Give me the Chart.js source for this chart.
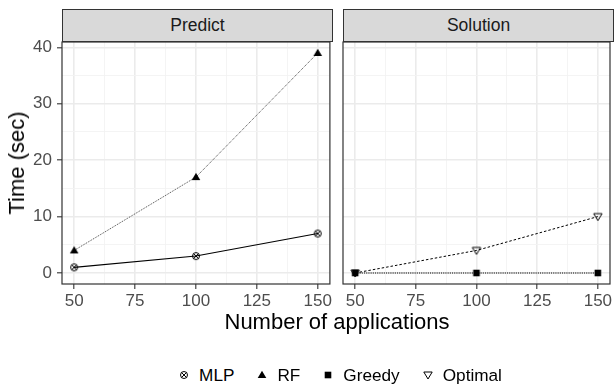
<!DOCTYPE html>
<html>
<head>
  <meta charset="utf-8">
  <title>Time per number of applications</title>
  <script src="https://cdn.jsdelivr.net/npm/chart.js"></script>
  <style>
    body {
      margin: 0;
      background: #fff;
      font-family: "Liberation Sans", Arial, sans-serif;
    }
    #wrap { position: relative; width: 616px; height: 385px; overflow: hidden; }
    canvas.panel { position: absolute; top: 0; }
    .strip {
      position: absolute; top: 9px; height: 33px; width: 271px;
      box-sizing: border-box; background: #d9d9d9; border: 1.2px solid #333;
      color: #1a1a1a; font-size: 17.5px; line-height: 31px; text-align: center;
    }
    .title { position: absolute; color: #000; font-size: 22px; white-space: nowrap; }
    #legend {
      position: absolute; left: 0; top: 364px; width: 680px; height: 22px;
      display: flex; justify-content: center; align-items: center;
      font-size: 17.2px; color: #000;
    }
    #legend .item { display: flex; align-items: center; margin: 0 11px; }
    #legend canvas { margin-right: 9px; }
  </style>
</head>
<body>
<div id="wrap">
  <canvas id="predictChart" class="panel" width="336" height="312" style="left:0px"></canvas>
  <canvas id="solutionChart" class="panel" width="280" height="312" style="left:336px"></canvas>
  <div class="strip" style="left:62px">Predict</div>
  <div class="strip" style="left:343px">Solution</div>
  <div class="title" style="left:337px; top:322px; transform:translate(-50%,-50%)">Number of applications</div>
  <div class="title" style="left:17px; top:163px; transform:translate(-50%,-50%) rotate(-90deg)">Time (sec)</div>
  <div id="legend"></div>
</div>

<script>
  // ----- data -----
  const appCounts   = [50, 100, 150];
  const mlpTime     = [1, 3, 7];
  const rfTime      = [4, 17, 39];
  const greedyTime  = [0, 0, 0];
  const optimalTime = [0, 4, 10];

  const xMajorTicks = [50, 75, 100, 125, 150];
  const yMajorTicks = [0, 10, 20, 30, 40];

  // minor grid lines sit half way between major ones (ggplot default)
  function withMinors(major) {
    const out = [];
    major.forEach((v, i) => {
      out.push(v);
      if (i < major.length - 1) out.push((v + major[i + 1]) / 2);
    });
    return out;
  }
  const xTicks = withMinors(xMajorTicks);
  const yTicks = withMinors(yMajorTicks);

  // ggplot style 5% expansion
  const allY = mlpTime.concat(rfTime, greedyTime, optimalTime);
  const yLo = Math.min(...allY), yHi = Math.max(...allY);
  const yMin = yLo - (yHi - yLo) * 0.05, yMax = yHi + (yHi - yLo) * 0.05;
  const xLo = Math.min(...appCounts), xHi = Math.max(...appCounts);
  const xMin = xLo - (xHi - xLo) * 0.05, xMax = xHi + (xHi - xLo) * 0.05;

  // ----- marker glyphs -----
  function marker(kind) {
    const c = document.createElement("canvas");
    c.width = c.height = 12;
    const g = c.getContext("2d");
    const m = 6;
    g.fillStyle = g.strokeStyle = "#000";
    g.lineWidth = 1;
    g.beginPath();
    if (kind === "circlecross") {
      g.arc(m, m, 3.5, 0, Math.PI * 2);
      g.moveTo(m - 2.5, m - 2.5); g.lineTo(m + 2.5, m + 2.5);
      g.moveTo(m + 2.5, m - 2.5); g.lineTo(m - 2.5, m + 2.5);
      g.stroke();
    } else if (kind === "triup") {
      g.moveTo(m, m - 4.2); g.lineTo(m + 4.3, m + 3); g.lineTo(m - 4.3, m + 3);
      g.closePath(); g.fill();
    } else if (kind === "square") {
      g.rect(m - 3.3, m - 3.3, 6.6, 6.6); g.fill();
    } else if (kind === "tridown") {
      g.moveTo(m - 4.2, m - 3); g.lineTo(m + 4.2, m - 3); g.lineTo(m, m + 4);
      g.closePath(); g.stroke();
    }
    return c;
  }

  function series(ys) { return appCounts.map((x, i) => ({ x: x, y: ys[i] })); }

  function lineSet(label, ys, kind, dash, color, width) {
    return {
      label: label,
      data: series(ys),
      borderColor: color,
      borderWidth: width,
      borderDash: dash,
      pointStyle: marker(kind),
      pointRadius: 5,
      tension: 0,
      fill: false
    };
  }

  const tickFont = { family: "Liberation Sans", size: 17 };

  function isMajor(list, v) { return list.indexOf(v) !== -1; }

  function gridStyle(major) {
    return {
      color: ctx => (ctx.tick && isMajor(major, ctx.tick.value)) ? "#ebebeb" : "#f3f3f3",
      lineWidth: ctx => (ctx.tick && isMajor(major, ctx.tick.value)) ? 1.6 : 0.9,
      tickColor: ctx => (ctx.tick && isMajor(major, ctx.tick.value)) ? "#333" : "rgba(0,0,0,0)",
      tickWidth: 1.1,
      tickLength: 5
    };
  }

  // panel border on all four sides
  const panelBorder = {
    id: "panelBorder",
    afterDraw(chart) {
      const a = chart.chartArea, g = chart.ctx;
      g.save();
      g.strokeStyle = "#333";
      g.lineWidth = 1.2;
      g.strokeRect(a.left, a.top, a.right - a.left, a.bottom - a.top);
      g.restore();
    }
  };

  function makePanel(id, datasets, showY, padLeft, padRight) {
    new Chart(document.getElementById(id).getContext("2d"), {
      type: "line",
      data: { datasets: datasets },
      plugins: [panelBorder],
      options: {
        responsive: false,
        animation: false,
        layout: { padding: { top: 42, left: padLeft, right: padRight, bottom: 0 } },
        plugins: { legend: { display: false }, tooltip: { enabled: false } },
        scales: {
          x: {
            type: "linear",
            min: xMin, max: xMax,
            border: { display: false },
            grid: gridStyle(xMajorTicks),
            afterBuildTicks: s => { s.ticks = xTicks.map(v => ({ value: v })); },
            afterFit: s => { s.height = 28; s.paddingLeft = 0; s.paddingRight = 0; },
            ticks: {
              autoSkip: false, maxRotation: 0, padding: 2,
              color: "#4d4d4d", font: tickFont,
              callback: v => isMajor(xMajorTicks, v) ? String(v) : ""
            }
          },
          y: {
            type: "linear",
            min: yMin, max: yMax,
            border: { display: false },
            grid: Object.assign(gridStyle(yMajorTicks), showY ? {} : { drawTicks: false, tickLength: 0 }),
            afterBuildTicks: s => { s.ticks = yTicks.map(v => ({ value: v })); },
            afterFit: s => { s.width = showY ? 62 : 0; s.paddingTop = 0; s.paddingBottom = 0; },
            ticks: {
              display: showY, padding: 5,
              color: "#4d4d4d", font: tickFont,
              callback: v => isMajor(yMajorTicks, v) ? String(v) : ""
            }
          }
        }
      }
    });
  }

  makePanel("predictChart", [
    lineSet("MLP", mlpTime, "circlecross", [], "#000", 1.1),
    lineSet("RF", rfTime, "triup", [1, 1], "#333", 0.9)
  ], true, 0, 4);

  makePanel("solutionChart", [
    lineSet("Optimal", optimalTime, "tridown", [2.5, 2], "#000", 1),
    lineSet("Greedy", greedyTime, "square", [1.2, 1], "#000", 1)
  ], false, 7, 3);

  // ----- legend below both panels -----
  const legendItems = [
    ["MLP", "circlecross"], ["RF", "triup"], ["Greedy", "square"], ["Optimal", "tridown"]
  ];
  const legend = document.getElementById("legend");
  legendItems.forEach(([name, kind]) => {
    const item = document.createElement("div");
    item.className = "item";
    item.appendChild(marker(kind));
    const span = document.createElement("span");
    span.textContent = name;
    item.appendChild(span);
    legend.appendChild(item);
  });
</script>
</body>
</html>
